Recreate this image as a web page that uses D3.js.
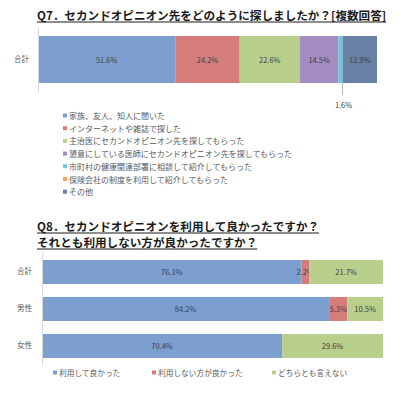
<!DOCTYPE html>
<html>
<head>
<meta charset="utf-8">
<script src="https://cdn.jsdelivr.net/npm/d3@7"></script>
<style>
  body { margin: 0; background: white; }
  text { font-family: "Noto Sans CJK JP", "Liberation Sans", sans-serif; }
</style>
</head>
<body>
<svg id="chart" width="401" height="399"></svg>
<script>
// Q7 data
const q7Title = 'Q7．セカンドオピニオン先をどのように探しましたか？[複数回答]'
const q7Categories = ['合計']
const q7Series = [
  '家族、友人、知人に聞いた',
  'インターネットや雑誌で探した',
  '主治医にセカンドオピニオン先を探してもらった',
  '懇意にしている医師にセカンドオピニオン先を探してもらった',
  '市町村の健康関連部署に相談して紹介してもらった',
  '保険会社の制度を利用して紹介してもらった',
  'その他'
]
const q7Values = [51.6, 24.2, 22.6, 14.5, 1.6, 0, 12.9]
const q7Colors = ['#7C9FD0', '#D57D7B', '#B9D08D', '#A48DC2', '#6DC6DB', '#F6A45E', '#6880A3']

// Q8 data
const q8Title = ['Q8．セカンドオピニオンを利用して良かったですか？', 'それとも利用しない方が良かったですか？']
const q8Categories = ['合計', '男性', '女性']
const q8Series = ['利用して良かった', '利用しない方が良かった', 'どちらとも言えない']
const q8Values = [
  [76.1, 84.2, 70.4],
  [2.2, 5.3, 0],
  [21.7, 10.5, 29.6]
]
const q8Colors = ['#7C9FD0', '#D57D7B', '#B9D08D']

const svg = d3.select('#chart')

// titulo subrayado
const underlinedTitle = (x, y, txt) => {
  const t = svg.append('text')
    .attr('x', x).attr('y', y)
    .attr('font-size', 11.6)
    .attr('font-weight', 'bold')
    .attr('fill', '#1a1a1a')
    .text(txt)
  const w = t.node().getComputedTextLength()
  svg.append('line')
    .attr('x1', x).attr('x2', x + w)
    .attr('y1', y + 2).attr('y2', y + 2)
    .attr('stroke', '#1a1a1a')
    .attr('stroke-width', 1)
}

// ---------------- Q7 ----------------
underlinedTitle(37, 20, q7Title)

const q7Total = d3.sum(q7Values)
const x7 = d3.scaleLinear().domain([0, q7Total]).range([38, 377])
const y7 = d3.scaleBand().domain(q7Categories).range([27, 92]).paddingInner(0.16).paddingOuter(0.16)

const q7Stack = []
let acc = 0
q7Values.forEach((v, i) => {
  q7Stack.push({ name: q7Series[i], value: v, x0: acc, x1: acc + v, color: q7Colors[i] })
  acc += v
})

const g7 = svg.append('g')
g7.selectAll('rect').data(q7Stack.filter(d => d.value > 0))
  .enter().append('rect')
    .attr('x', d => x7(d.x0))
    .attr('y', y7('合計'))
    .attr('width', d => x7(d.x1) - x7(d.x0))
    .attr('height', y7.bandwidth())
    .attr('fill', d => d.color)

// etiquetas dentro de la barra
g7.selectAll('text.lbl').data(q7Stack.filter(d => d.value >= 5))
  .enter().append('text')
    .attr('class', 'lbl')
    .attr('x', d => (x7(d.x0) + x7(d.x1)) / 2)
    .attr('y', y7('合計') + y7.bandwidth() / 2 + 3)
    .attr('text-anchor', 'middle')
    .attr('font-size', 7.5)
    .attr('fill', '#404040')
    .text(d => d.value.toFixed(1) + '%')

// etiquetas pequeñas fuera de la barra con linea guia
const small = q7Stack.filter(d => d.value > 0 && d.value < 5)
small.forEach(d => {
  const cx = (x7(d.x0) + x7(d.x1)) / 2 + 2
  const yb = y7('合計') + y7.bandwidth()
  g7.append('line')
    .attr('x1', cx).attr('x2', cx)
    .attr('y1', yb).attr('y2', yb + 12)
    .attr('stroke', '#a6a6a6').attr('stroke-width', 0.8)
  g7.append('text')
    .attr('x', cx + 1).attr('y', yb + 25)
    .attr('text-anchor', 'middle')
    .attr('font-size', 7.5)
    .attr('fill', '#404040')
    .text(d.value.toFixed(1) + '%')
})

const axis7 = g7.append('g')
  .attr('transform', `translate(${x7(0)},0)`)
  .call(d3.axisLeft(y7).tickSize(0).tickPadding(9))
axis7.select('.domain').attr('stroke', '#d9d9d9')
axis7.selectAll('text')
  .attr('font-size', 7.5).attr('fill', '#595959')
  .style('font-family', '"Noto Sans CJK JP", sans-serif')

// leyenda Q7
const leg7 = svg.append('g')
leg7.selectAll('g').data(q7Series)
  .enter().append('g')
    .attr('transform', (d, i) => `translate(63, ${116 + i * 12.7})`)
    .each(function (d, i) {
      const it = d3.select(this)
      it.append('rect').attr('x', 0).attr('y', -2.5).attr('width', 4).attr('height', 4).attr('fill', q7Colors[i])
      it.append('text').attr('x', 6).attr('y', 3)
        .attr('font-size', 8).attr('fill', '#595959').text(d)
    })

// ---------------- Q8 ----------------
underlinedTitle(37, 231, q8Title[0])
underlinedTitle(37, 247, q8Title[1])

const x8 = d3.scaleLinear().domain([0, 100]).range([42, 383])
const y8 = d3.scaleBand().domain(q8Categories).range([253, 365]).paddingInner(0.35).paddingOuter(0.19)

const rows8 = q8Categories.map((c, j) => {
  const row = { cat: c }
  q8Series.forEach((s, i) => { row[s] = q8Values[i][j] })
  return row
})
const stack8 = d3.stack().keys(q8Series)(rows8)

const g8 = svg.append('g')
const layers = g8.selectAll('g.layer').data(stack8)
  .enter().append('g')
    .attr('class', 'layer')
    .attr('fill', (d, i) => q8Colors[i])

layers.selectAll('rect').data(d => d.filter(p => p[1] > p[0]))
  .enter().append('rect')
    .attr('x', d => x8(d[0]))
    .attr('y', d => y8(d.data.cat))
    .attr('width', d => x8(d[1]) - x8(d[0]))
    .attr('height', y8.bandwidth())

layers.selectAll('text').data(d => d.filter(p => p[1] > p[0]))
  .enter().append('text')
    .attr('x', d => (x8(d[0]) + x8(d[1])) / 2)
    .attr('y', d => y8(d.data.cat) + y8.bandwidth() / 2 + 3)
    .attr('text-anchor', 'middle')
    .attr('font-size', 7.5)
    .attr('fill', '#404040')
    .text(d => (d[1] - d[0]).toFixed(1) + '%')

const axis8 = g8.append('g')
  .attr('transform', `translate(${x8(0)},0)`)
  .call(d3.axisLeft(y8).tickSize(0).tickPadding(10))
axis8.select('.domain').attr('stroke', '#d9d9d9')
axis8.selectAll('text')
  .attr('font-size', 7.5).attr('fill', '#595959')
  .style('font-family', '"Noto Sans CJK JP", sans-serif')

// leyenda Q8
const legX8 = [53, 152, 272]
const leg8 = svg.append('g')
leg8.selectAll('g').data(q8Series)
  .enter().append('g')
    .attr('transform', (d, i) => `translate(${legX8[i]}, 373)`)
    .each(function (d, i) {
      const it = d3.select(this)
      it.append('rect').attr('x', 0).attr('y', -2.5).attr('width', 4).attr('height', 4).attr('fill', q8Colors[i])
      it.append('text').attr('x', 6).attr('y', 3)
        .attr('font-size', 7.7).attr('fill', '#595959').text(d)
    })
</script>
</body>
</html>
